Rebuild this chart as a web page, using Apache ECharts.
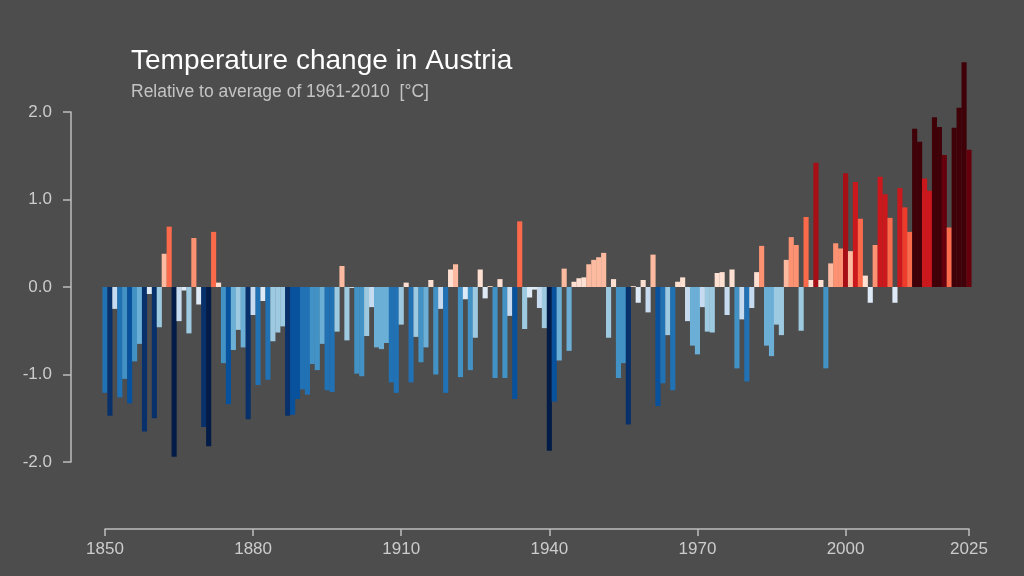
<!DOCTYPE html>
<html>
<head>
<meta charset="utf-8">
<title>Temperature change in Austria</title>
<script src="https://cdn.jsdelivr.net/npm/echarts@6/dist/echarts.min.js"></script>
<style>
    html, body { margin: 0; padding: 0; background: #4d4d4d; }
    #main { width: 1024px; height: 576px; }
</style>
</head>
<body>
<div id="main"></div>
<script>
    // anomaly vs 1961-2010 mean, one value per year, 1850..2025
    var startYear = 1850;
    var anomalies = [
        -1.21, -1.47, -0.25, -1.26, -1.05, -1.33, -0.85, -0.65, -1.65, -0.08,   // 1850s
        -1.50, -0.46,  0.38,  0.69, -1.94, -0.39, -0.04, -0.53,  0.56, -0.20,   // 1860s
        -1.60, -1.82,  0.63,  0.05, -0.87, -1.34, -0.72, -0.49, -0.69, -1.51,   // 1870s
        -0.32, -1.12, -0.16, -1.06, -0.62, -0.52, -0.45, -1.47, -1.46, -1.28,   // 1880s
        -1.17, -1.23, -0.88, -0.95, -0.65, -1.18, -1.20, -0.51,  0.24, -0.61,   // 1890s
        -0.01, -0.99, -1.02, -0.56, -0.23, -0.69, -0.71, -0.64, -1.09, -1.21,   // 1900s
        -0.43,  0.05, -1.09, -0.57, -0.86, -0.69,  0.08, -1.00, -0.25, -1.21,   // 1910s
         0.20,  0.26, -1.03, -0.14, -0.95, -0.58,  0.20, -0.13,  0.01, -1.04,   // 1920s
         0.09, -1.04, -0.33, -1.28,  0.75, -0.48, -0.12, -0.03, -0.24, -0.47,   // 1930s
        -1.87, -1.31, -0.84,  0.21, -0.73,  0.06,  0.10,  0.11,  0.26,  0.31,   // 1940s
         0.34,  0.39, -0.58,  0.09, -1.04, -0.87, -1.57,  0.01, -0.18,  0.08,   // 1950s
        -0.29,  0.37, -1.36, -1.10, -0.55, -1.18,  0.06,  0.11, -0.39, -0.67,   // 1960s
        -0.77, -0.23, -0.51, -0.52,  0.16,  0.17, -0.32,  0.20, -0.93, -0.37,   // 1970s
        -1.08, -0.24,  0.17,  0.47, -0.67, -0.79, -0.43, -0.55,  0.31,  0.57,   // 1980s
         0.48, -0.50,  0.80,  0.08,  1.42,  0.08, -0.93,  0.27,  0.50,  0.44,   // 1990s
         1.30,  0.41,  1.20,  0.78,  0.13, -0.18,  0.48,  1.26,  1.06,  0.79,   // 2000s
        -0.18,  1.13,  0.91,  0.63,  1.81,  1.66,  1.24,  1.10,  1.94,  1.83,   // 2010s
         1.51,  0.68,  1.82,  2.05,  2.57,  1.57                                // 2020s
    ];
    var yTicks = [-2, -1, 0, 1, 2];
    var xTickYears = [1850, 1880, 1910, 1940, 1970, 2000, 2025];

    // colour bins (stripes palette)
    var binEdges = [-1.75, -1.465, -1.27, -1.05, -0.84, -0.63, -0.42, -0.21, 0,
                     0.21, 0.42, 0.63, 0.85, 1.05, 1.27, 1.47, 1.6];
    var binColors = ['#031c47', '#08306b', '#08519c', '#2171b5', '#4292c6', '#6baed6',
                     '#9ecae1', '#c6dbef', '#deebf7',
                     '#fee0d2', '#fcbba1', '#fc9272', '#fb6a4a', '#ef3b2c', '#cb181d',
                     '#a50f15', '#67000d', '#3f0008'];

    var pieces = [];
    for (var i = 0; i < binColors.length; i++) {
        var p = { color: binColors[i] };
        if (i > 0) p.gte = binEdges[i - 1];
        if (i < binEdges.length) p.lt = binEdges[i];
        pieces.push(p);
    }

    var seriesData = [];
    for (var k = 0; k < anomalies.length; k++) {
        seriesData.push([startYear + k, anomalies[k]]);
    }

    var gridLeft = 105, gridRight = 55;
    // one year per bar, bars touching
    var barPx = (1024 - gridLeft - gridRight) / (xTickYears[xTickYears.length - 1] - xTickYears[0]) + 0.2;

    var axisGrey = '#bdbdbd';
    var labelGrey = '#cccccc';

    var myChart = echarts.init(document.getElementById('main'));
    var option = {
        backgroundColor: '#4d4d4d',
        animation: false,
        title: [
            {
                text: 'Temperature change in Austria',
                left: 126,
                top: 42,
                textStyle: { color: '#ffffff', fontSize: 28, fontWeight: 'normal', fontFamily: 'Liberation Sans' }
            },
            {
                text: 'Relative to average of 1961-2010  [°C]',
                left: 126,
                top: 78,
                textStyle: { color: '#c4c4c4', fontSize: 17.5, fontWeight: 'normal', fontFamily: 'Liberation Sans' }
            }
        ],
        grid: { left: gridLeft, right: gridRight, top: 112, bottom: 114 },
        visualMap: {
            type: 'piecewise',
            show: false,
            dimension: 1,
            seriesIndex: 0,
            pieces: pieces
        },
        xAxis: {
            type: 'value',
            min: xTickYears[0],
            max: xTickYears[xTickYears.length - 1],
            interval: 30,
            offset: 67,
            splitLine: { show: false },
            axisLine: { show: true, onZero: false, lineStyle: { color: axisGrey, width: 1.5 } },
            axisTick: { show: true, length: 7, lineStyle: { color: axisGrey, width: 1.5 } },
            axisLabel: {
                color: labelGrey, fontSize: 17, margin: 12, fontFamily: 'Liberation Sans',
                showMinLabel: true, showMaxLabel: true,
                formatter: function (v) { return xTickYears.indexOf(v) >= 0 ? String(v) : ''; }
            }
        },
        yAxis: {
            type: 'value',
            min: yTicks[0],
            max: yTicks[yTicks.length - 1],
            interval: 1,
            offset: 34,
            splitLine: { show: false },
            axisLine: { show: true, lineStyle: { color: axisGrey, width: 1.5 } },
            axisTick: { show: true, length: 8, lineStyle: { color: axisGrey, width: 1.5 } },
            axisLabel: {
                color: labelGrey, fontSize: 17, margin: 19, fontFamily: 'Liberation Sans',
                formatter: function (v) { return v.toFixed(1); }
            }
        },
        series: [
            {
                name: 'anomaly',
                type: 'bar',
                clip: false,
                barWidth: barPx,
                data: seriesData
            }
        ]
    };
    myChart.setOption(option);
</script>
</body>
</html>
